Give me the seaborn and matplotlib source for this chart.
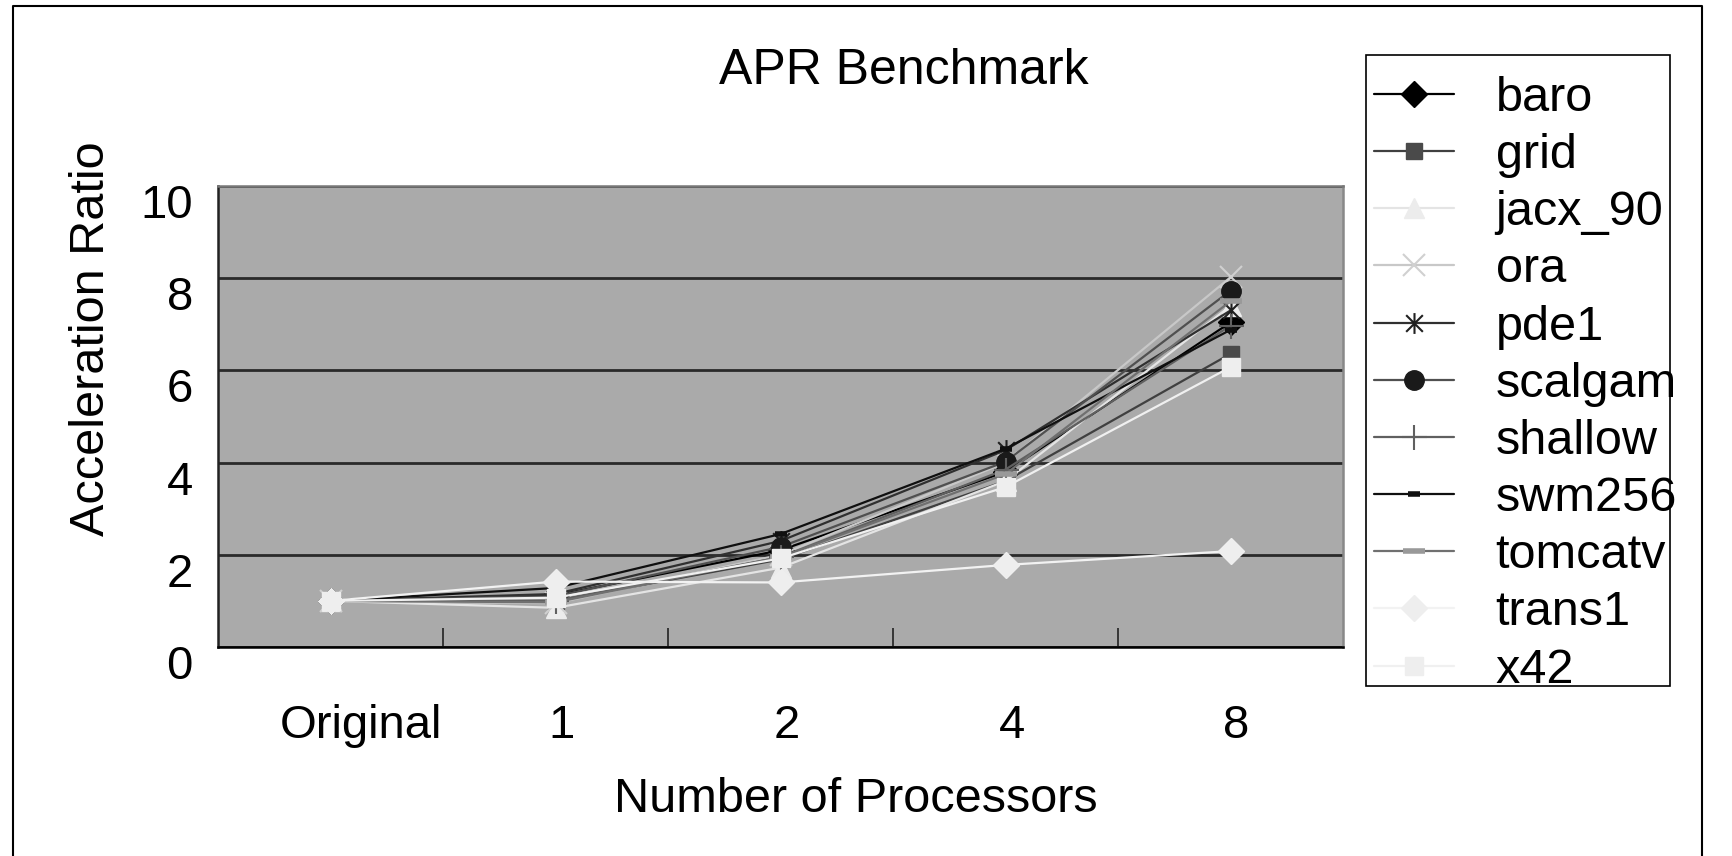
import matplotlib
matplotlib.use("Agg")
import matplotlib.pyplot as plt
import matplotlib.transforms as mtransforms
from matplotlib.path import Path
from matplotlib.lines import Line2D
from matplotlib.patches import Rectangle
import seaborn as sns
import pandas as pd

# ---- data ----
categories = ["Original", "1", "2", "4", "8"]
baro    = [1.0, 1.12, 2.10, 3.80, 7.04]
grid    = [1.0, 1.00, 1.90, 3.60, 6.36]
jacx_90 = [1.0, 0.85, 1.72, 3.60, 7.40]
ora     = [1.0, 0.95, 2.00, 4.00, 8.02]
pde1    = [1.0, 1.15, 2.30, 4.27, 7.30]
scalgam = [1.0, 1.10, 2.17, 4.02, 7.73]
shallow = [1.0, 1.00, 1.95, 3.85, 6.97]
swm256  = [1.0, 1.28, 2.45, 4.30, 6.88]
tomcatv = [1.0, 0.97, 1.95, 3.75, 7.50]
trans1  = [1.0, 1.42, 1.40, 1.78, 2.08]
x42     = [1.0, 1.07, 1.92, 3.47, 6.07]

series_names = ["baro", "grid", "jacx_90", "ora", "pde1", "scalgam",
                "shallow", "swm256", "tomcatv", "trans1", "x42"]
series_vals = [baro, grid, jacx_90, ora, pde1, scalgam,
               shallow, swm256, tomcatv, trans1, x42]

star = Path([(-1, -1), (1, 1), (-1, 1), (1, -1), (0, -1.25), (0, 1.25)],
            [Path.MOVETO, Path.LINETO, Path.MOVETO, Path.LINETO, Path.MOVETO, Path.LINETO])

styles = {
    "baro":    dict(color="#000000", marker="D", ms=13, mfc="#000000", mec="#000000", mew=1),
    "grid":    dict(color="#404040", marker="s", ms=12, mfc="#4a4a4a", mec="#4a4a4a", mew=1),
    "jacx_90": dict(color="#e4e4e4", marker="^", ms=15, mfc="#ececec", mec="#ececec", mew=1),
    "ora":     dict(color="#c8c8c8", marker="x", ms=16, mfc="#d0d0d0", mec="#d0d0d0", mew=1.5),
    "pde1":    dict(color="#303030", marker=star, ms=15, mfc="none", mec="#202020", mew=1.5),
    "scalgam": dict(color="#505050", marker="o", ms=14, mfc="#1a1a1a", mec="#1a1a1a", mew=1),
    "shallow": dict(color="#606060", marker="+", ms=18, mfc="#606060", mec="#606060", mew=1.5),
    "swm256":  dict(color="#101010", marker="_", ms=8, mfc="#101010", mec="#101010", mew=4),
    "tomcatv": dict(color="#707070", marker="_", ms=16, mfc="#999999", mec="#999999", mew=4),
    "trans1":  dict(color="#f2f2f2", marker="D", ms=13, mfc="#eeeeee", mec="#eeeeee", mew=1),
    "x42":     dict(color="#f0f0f0", marker="s", ms=13, mfc="#eeeeee", mec="#eeeeee", mew=1),
}

sns.set_theme(style="white")
plt.rcParams["font.family"] = ["Liberation Sans", "DejaVu Sans"]
plt.rcParams["text.color"] = "black"
plt.rcParams["xtick.color"] = "black"
plt.rcParams["ytick.color"] = "black"
plt.rcParams["xtick.labelcolor"] = "black"
plt.rcParams["ytick.labelcolor"] = "black"

W, H = 1733, 856
fig = plt.figure(figsize=(W / 100, H / 100), dpi=100)
ax = fig.add_axes([218 / W, 1 - 647 / H, (1343 - 218) / W, (647 - 186) / H])
ax.set_facecolor("#aaaaaa")

for name, vals in zip(series_names, series_vals):
    df = pd.DataFrame({"x": list(range(len(categories))), "y": vals})
    st = styles[name]
    sns.lineplot(data=df, x="x", y="y", ax=ax, label=name, color=st["color"],
                 marker=st["marker"], markersize=st["ms"], markerfacecolor=st["mfc"],
                 markeredgecolor=st["mec"], markeredgewidth=st["mew"], linewidth=1.6,
                 zorder=3)

ax.set_xlim(-0.5, len(categories) - 0.5)
ax.set_ylim(0, 10)
ax.set_yticks([0, 2, 4, 6, 8, 10])
ax.set_yticklabels(["0", "2", "4", "6", "8", "10"])
ax.yaxis.grid(True, color="#2a2a2a", linewidth=2.0)
ax.set_axisbelow(True)

# category boundaries: inward ticks; labels at category centres
ax.set_xticks([i + 0.5 for i in range(len(categories) - 1)])
ax.set_xticklabels([])
ax.set_xticks(list(range(len(categories))), minor=True)
ax.set_xticklabels(categories, minor=True)
ax.tick_params(axis="x", which="major", direction="in", length=14, width=1.2, color="#222222", bottom=True)
ax.tick_params(axis="x", which="minor", length=0, pad=41, labelsize=34, labelcolor="black")
ax.tick_params(axis="y", which="major", length=0, pad=18, labelsize=34, labelcolor="black")

for lab in ax.get_yticklabels():
    lab.set_transform(lab.get_transform() + mtransforms.ScaledTranslation(0, -0.15, fig.dpi_scale_trans))
for i, lab in enumerate(ax.get_xticklabels(minor=True)):
    dx = 0.30 if i == 0 else 0.06
    lab.set_transform(lab.get_transform() + mtransforms.ScaledTranslation(dx, 0, fig.dpi_scale_trans))

for side, col in [("left", "#222222"), ("bottom", "#000000"), ("top", "#777777"), ("right", "#888888")]:
    ax.spines[side].set_visible(True)
    ax.spines[side].set_color(col)
    ax.spines[side].set_linewidth(1.8)

ax.set_xlabel("")
ax.set_ylabel("")

fig.text(904 / W, 1 - 71 / H, "APR Benchmark", ha="center", va="center", fontsize=36, color="black")
fig.text(92 / W, 1 - 339 / H, "Acceleration Ratio", ha="center", va="center", rotation=90,
         fontsize=35, color="black")
fig.text(856 / W, 1 - 800 / H, "Number of Processors", ha="center", va="center", fontsize=35,
         color="black")

# legend
handles, labels = ax.get_legend_handles_labels()
if ax.legend_:
    ax.legend_.remove()
leg = fig.legend(handles, labels, loc="upper left", bbox_to_anchor=(1374 / W, 1 - 76 / H),
                 frameon=False, fontsize=35, handlelength=1.65, handletextpad=0.85,
                 labelspacing=0.25, borderpad=0, borderaxespad=0, labelcolor="black")
fig.add_artist(Rectangle((1366 / W, 1 - 686 / H), (1670 - 1366) / W, (686 - 55) / H,
                         transform=fig.transFigure, fill=False, edgecolor="#000000", linewidth=1.2, zorder=0))

# outer chart border
bx0, bx1, by1 = 13 / W, 1702 / W, 1 - 6 / H
fig.add_artist(Line2D([bx0, bx0, bx1, bx1], [0, by1, by1, 0], transform=fig.transFigure,
                      color="#000000", linewidth=1.5))

fig.savefig("out.png", dpi=100, facecolor="white")
